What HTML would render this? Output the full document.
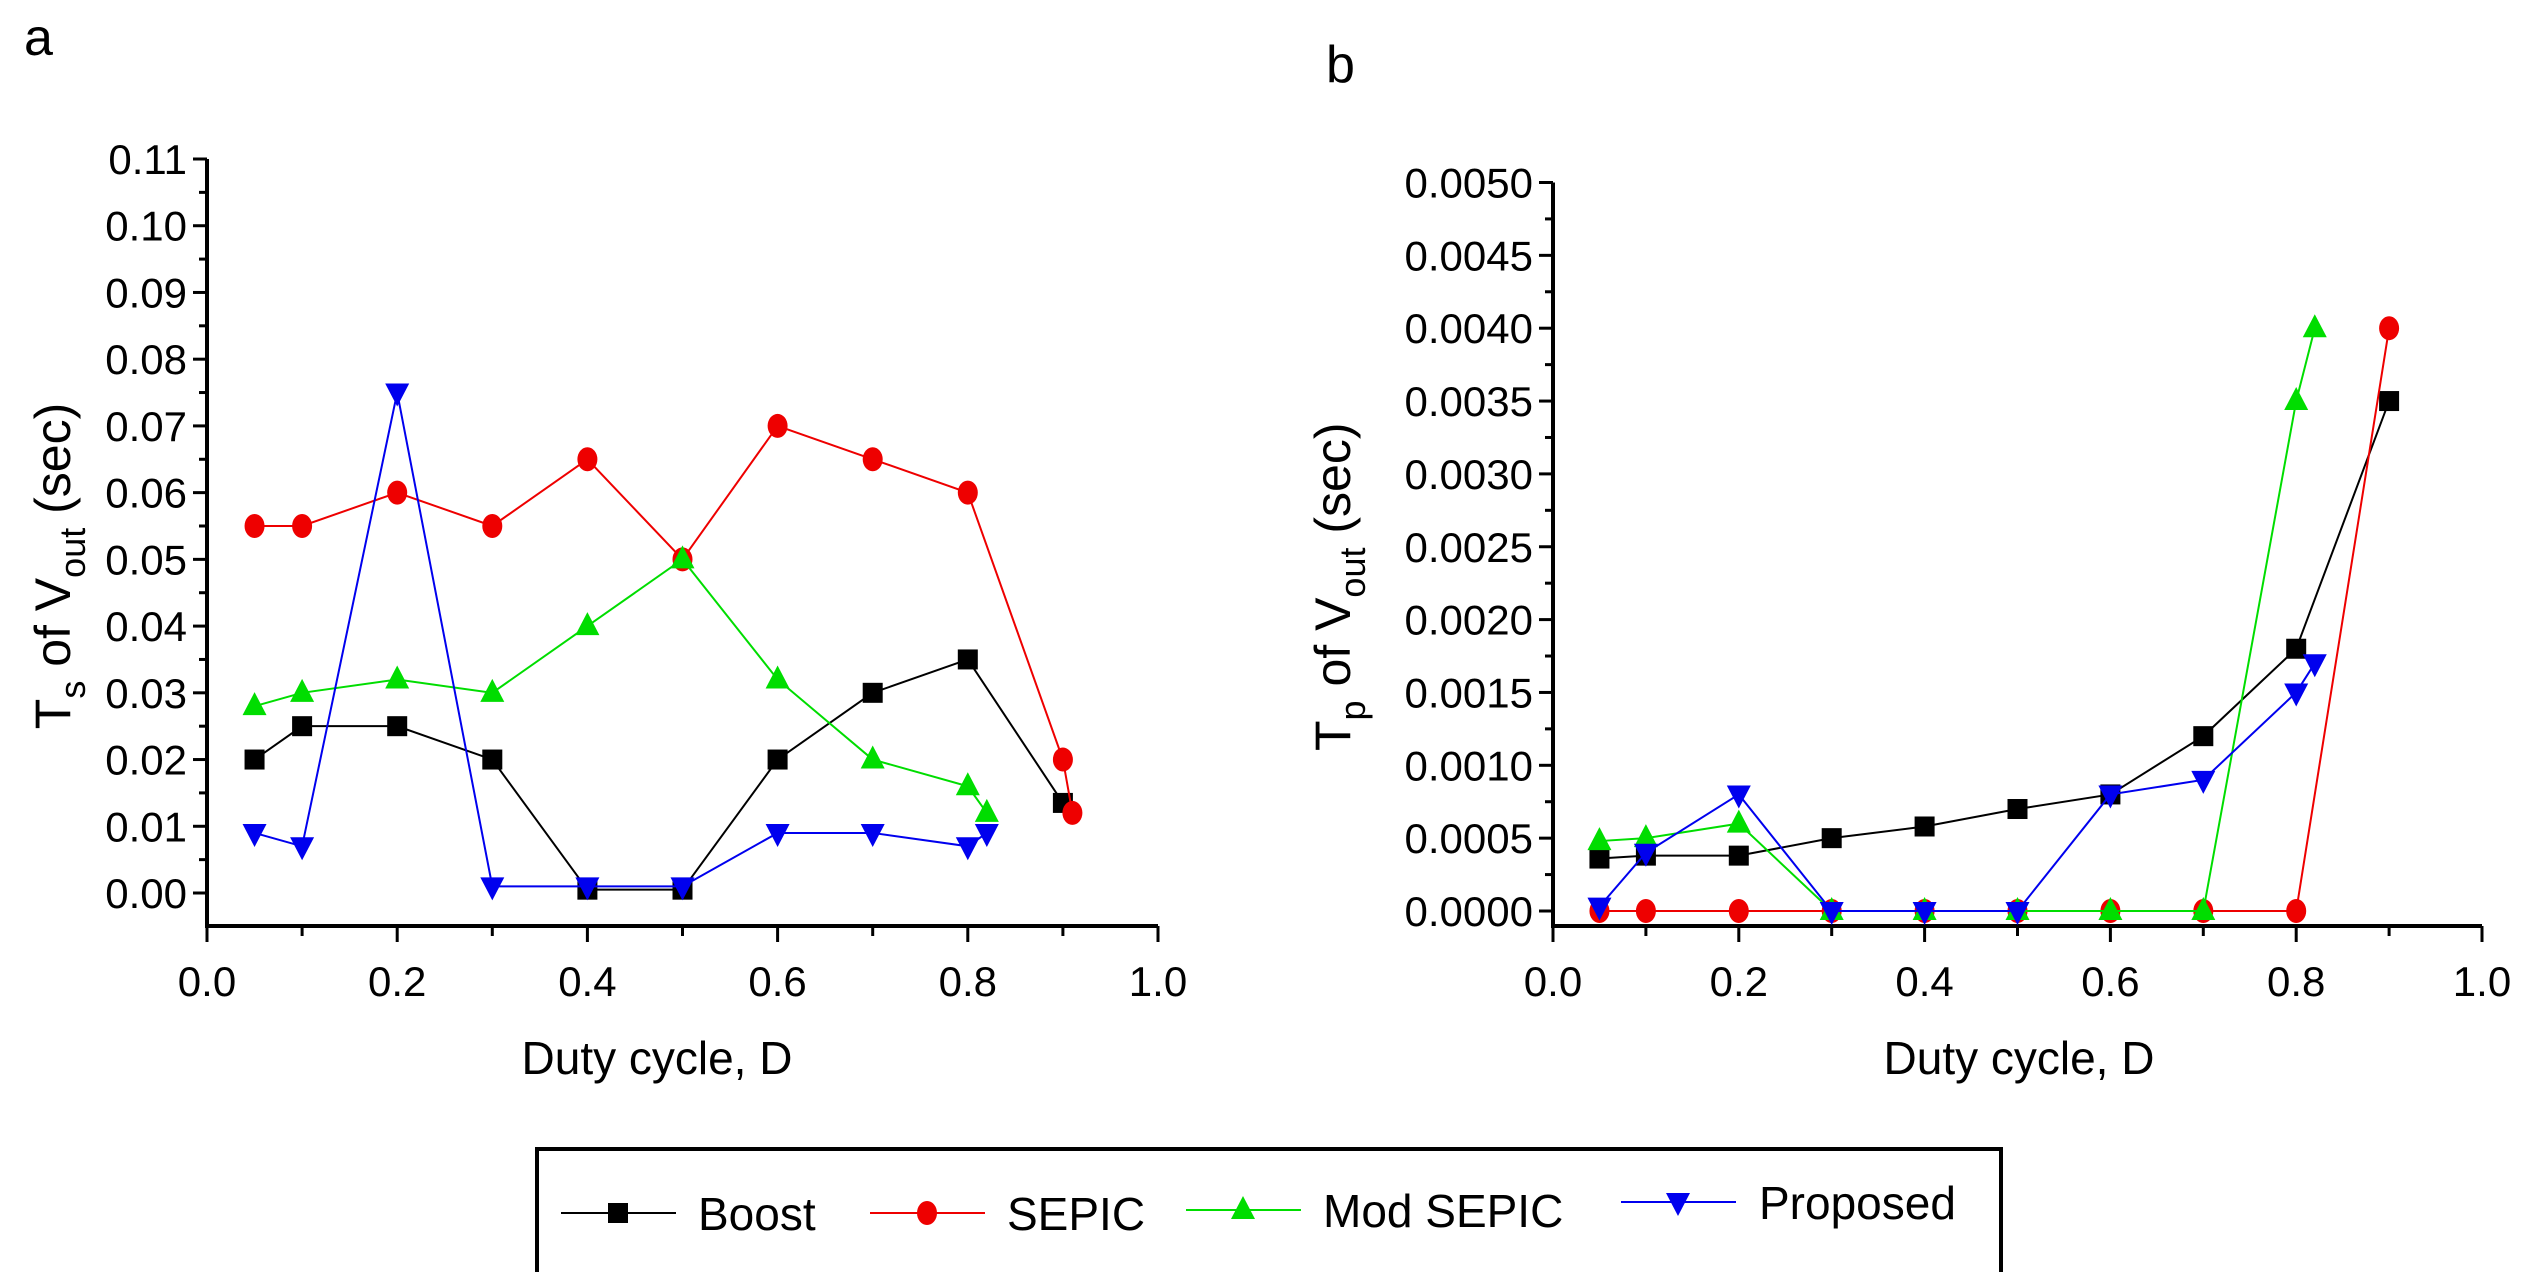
<!DOCTYPE html>
<html><head><meta charset="utf-8"><style>
html,body{margin:0;padding:0;background:#fff;}
svg{display:block;font-family:"Liberation Sans",Arial,sans-serif;}
</style></head><body>
<svg id="fig" width="2526" height="1272" viewBox="0 0 2526 1272" xmlns="http://www.w3.org/2000/svg">
<text x="24" y="55" font-size="52">a</text>
<text x="1326" y="82" font-size="52">b</text>
<g id="chartA"></g>
<g id="chartB"></g>
<g id="legend">
<rect x="537" y="1149" width="1464" height="130" fill="#fff" stroke="#000" stroke-width="4"/>
</g>
</svg>
<script>
const seriesNames = ["Boost","SEPIC","Mod SEPIC","Proposed"];
const colors = ["#000000","#ee0000","#00dd00","#0000ee"];
const markers = ["square","circle","up","down"];
// Panel a
const aBoostX = [0.05,0.1,0.2,0.3,0.4,0.5,0.6,0.7,0.8,0.9];
const aBoostY = [0.02,0.025,0.025,0.02,0.0005,0.0005,0.02,0.03,0.035,0.0135];
const aSepicX = [0.05,0.1,0.2,0.3,0.4,0.5,0.6,0.7,0.8,0.9,0.91];
const aSepicY = [0.055,0.055,0.06,0.055,0.065,0.05,0.07,0.065,0.06,0.02,0.012];
const aModX = [0.05,0.1,0.2,0.3,0.4,0.5,0.6,0.7,0.8,0.82];
const aModY = [0.028,0.030,0.032,0.030,0.040,0.050,0.032,0.020,0.016,0.012];
const aPropX = [0.05,0.1,0.2,0.3,0.4,0.5,0.6,0.7,0.8,0.82];
const aPropY = [0.009,0.007,0.075,0.001,0.001,0.001,0.009,0.009,0.007,0.009];
const aYTicks = ["0.00","0.01","0.02","0.03","0.04","0.05","0.06","0.07","0.08","0.09","0.10","0.11"];
// Panel b
const bBoostX = [0.05,0.1,0.2,0.3,0.4,0.5,0.6,0.7,0.8,0.9];
const bBoostY = [0.00036,0.00038,0.00038,0.0005,0.00058,0.0007,0.0008,0.0012,0.0018,0.0035];
const bSepicX = [0.05,0.1,0.2,0.3,0.4,0.5,0.6,0.7,0.8,0.9];
const bSepicY = [0,0,0,0,0,0,0,0,0,0.004];
const bModX = [0.05,0.1,0.2,0.3,0.4,0.5,0.6,0.7,0.8,0.82];
const bModY = [0.00048,0.0005,0.0006,0,0,0,0,0,0.0035,0.004];
const bPropX = [0.05,0.1,0.2,0.3,0.4,0.5,0.6,0.7,0.8,0.82];
const bPropY = [0.00003,0.0004,0.0008,0,0,0,0.0008,0.0009,0.0015,0.0017];
const bYTicks = ["0.0000","0.0005","0.0010","0.0015","0.0020","0.0025","0.0030","0.0035","0.0040","0.0045","0.0050"];
const xTicks = ["0.0","0.2","0.4","0.6","0.8","1.0"];

const NS="http://www.w3.org/2000/svg";
function mk(parent,tag,attrs){const e=document.createElementNS(NS,tag);for(const k in attrs)e.setAttribute(k,attrs[k]);parent.appendChild(e);return e;}
function marker(g,type,x,y,c){
  let e;
  if(type==="square")e=mk(g,"rect",{x:x-10,y:y-10,width:20,height:20,fill:c});
  else if(type==="circle")e=mk(g,"ellipse",{cx:x,cy:y,rx:10,ry:12,fill:c});
  else if(type==="up")e=mk(g,"polygon",{points:`${x},${y-14} ${x+12},${y+9} ${x-12},${y+9}`,fill:c});
  else e=mk(g,"polygon",{points:`${x},${y+14} ${x+12},${y-9} ${x-12},${y-9}`,fill:c});
  return e;
}
function chart(gid,o){
  const g=document.getElementById(gid);
  const sx=v=>o.x0+(o.x1-o.x0)*v;
  const sy=v=>o.y0-(o.y0-o.yTop)*v/o.yMax;
  const ax=mk(g,"path",{d:`M${o.x0} ${o.yTop} V${o.axisY} H${o.x1}`,stroke:"#000","stroke-width":4,fill:"none"});
  
  
  const n=o.yTicks.length;
  for(let i=0;i<n;i++){
    const v=o.yMax*i/(n-1), y=sy(v);
    mk(g,"line",{x1:o.x0-14,x2:o.x0,y1:y,y2:y,stroke:"#000","stroke-width":3});
    if(i<n-1){const ym=sy(v+o.yMax/(n-1)/2);mk(g,"line",{x1:o.x0-8,x2:o.x0,y1:ym,y2:ym,stroke:"#000","stroke-width":3});}
    const t=mk(g,"text",{x:o.x0-20,y:y+15,"font-size":42,"text-anchor":"end"});
    t.textContent=o.yTicks[i];
    
    
  }
  for(let i=0;i<=10;i++){
    const x=sx(i/10);
    mk(g,"line",{x1:x,x2:x,y1:o.axisY,y2:o.axisY+(i%2?10:16),stroke:"#000","stroke-width":3});
  }
  xTicks.forEach((lab,i)=>{
    const t=mk(g,"text",{x:sx(i*0.2),y:o.axisY+70,"font-size":42,"text-anchor":"middle"});
    t.textContent=lab;
    
    
  });
  const xt=mk(g,"text",{x:o.xtX,y:o.axisY+148,"font-size":46,"text-anchor":"middle"});
  xt.textContent="Duty cycle, D";
  
  
  const yt=mk(g,"text",{transform:`translate(${o.titleX},${(o.yTop+o.y0)/2+40}) rotate(-90)`,"font-size":50,"text-anchor":"middle"});
  yt.innerHTML=`${o.sym}<tspan font-size="36" dy="15">${o.sub}</tspan><tspan dy="-15"> of V</tspan><tspan font-size="36" dy="15">out</tspan><tspan dy="-15"> (sec)</tspan>`;
  
  
  o.series.forEach((s,k)=>{
    const sg=mk(g,"g",{});
    
    
    const pts=s[0].map((xv,i)=>sx(xv)+","+sy(s[1][i])).join(" ");
    mk(sg,"polyline",{points:pts,fill:"none",stroke:colors[k],"stroke-width":2});
    s[0].forEach((xv,i)=>{
      const m=marker(sg,markers[k],sx(xv),sy(s[1][i]),colors[k]);
      
      
    });
  });
}
chart("chartA",{x0:207,x1:1158,y0:893,yTop:159,yMax:0.11,axisY:926,yTicks:aYTicks,titleX:70,xtX:657,sym:"T",sub:"s",
  series:[[aBoostX,aBoostY],[aSepicX,aSepicY],[aModX,aModY],[aPropX,aPropY]]});
chart("chartB",{x0:1553,x1:2482,y0:911,yTop:182.5,yMax:0.005,axisY:926,yTicks:bYTicks,titleX:1350,xtX:2019,sym:"T",sub:"p",
  series:[[bBoostX,bBoostY],[bSepicX,bSepicY],[bModX,bModY],[bPropX,bPropY]]});
const lg=document.getElementById("legend");
const legX=[[561,698],[870,1007],[1186,1323],[1621,1759]];
const legY=[1213,1213,1210,1202];
seriesNames.forEach((nm,k)=>{
  const eg=mk(lg,"g",{});
  
  
  const [lx,tx]=legX[k], y=legY[k];
  mk(eg,"line",{x1:lx,x2:lx+115,y1:y,y2:y,stroke:colors[k],"stroke-width":2});
  marker(eg,markers[k],lx+57,y,colors[k]);
  const t=mk(eg,"text",{x:tx,y:y+17,"font-size":46});
  t.textContent=nm;
});
</script>
</body></html>
